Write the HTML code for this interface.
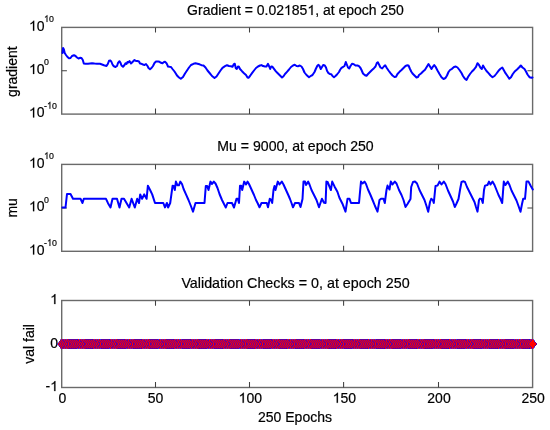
<!DOCTYPE html>
<html><head><meta charset="utf-8"><style>
html,body{margin:0;padding:0;background:#fff;}
svg{display:block;filter:blur(0.3px);}
text{font-family:"Liberation Sans", sans-serif;fill:#000;stroke:#000;stroke-width:0.2px;}
.h1{fill-opacity:0;stroke-opacity:0;}
.one{fill:#000;stroke:#000;stroke-width:0.2px;vector-effect:non-scaling-stroke;}
</style></head><body>
<svg width="550" height="430" viewBox="0 0 550 430">
<rect width="550" height="430" fill="#fff"/>
<rect x="61.7" y="27.4" width="470.90000000000003" height="86.69999999999999" fill="none" stroke="#6a6a6a" stroke-width="1.4"/>
<path d="M155.5,27.4v5.2M155.5,114.1v-5.6M249.5,27.4v5.2M249.5,114.1v-5.6M343.6,27.4v5.2M343.6,114.1v-5.6M438.5,27.4v5.2M438.5,114.1v-5.6M61.7,70.8h5.2M532.6,70.8h-5.2" stroke="#404040" stroke-width="1.05" fill="none"/>
<rect x="61.7" y="164.4" width="470.90000000000003" height="86.9" fill="none" stroke="#6a6a6a" stroke-width="1.4"/>
<path d="M155.5,164.4v5.2M155.5,251.3v-5.6M249.5,164.4v5.2M249.5,251.3v-5.6M343.6,164.4v5.2M343.6,251.3v-5.6M438.5,164.4v5.2M438.5,251.3v-5.6M61.7,207.9h5.2M532.6,207.9h-5.2" stroke="#404040" stroke-width="1.05" fill="none"/>
<rect x="61.7" y="300.5" width="470.90000000000003" height="87.0" fill="none" stroke="#6a6a6a" stroke-width="1.4"/>
<path d="M155.5,300.5v5.2M155.5,387.5v-5.6M249.5,300.5v5.2M249.5,387.5v-5.6M343.6,300.5v5.2M343.6,387.5v-5.6M438.5,300.5v5.2M438.5,387.5v-5.6M61.7,344.0h5.2M532.6,344.0h-5.2" stroke="#404040" stroke-width="1.05" fill="none"/>
<g transform="translate(295.5,14.9) scale(1.0,1.0)">
<text id="t0" x="0" y="0" text-anchor="middle" font-size="14.0">Gradient = 0.02<tspan class="h1">1</tspan>85<tspan class="h1">1</tspan>, at epoch 250</text>
<path class="one" transform="translate(-11.508,0.000) scale(0.006836,-0.006836)" d="M763 0L583 0L583 1147Q518 1085 415 1024.5Q312 964 223 931L223 1105Q375 1176 486 1275Q597 1374 651 1466L763 1466Z"/>
<path class="one" transform="translate(11.867,0.000) scale(0.006836,-0.006836)" d="M763 0L583 0L583 1147Q518 1085 415 1024.5Q312 964 223 931L223 1105Q375 1176 486 1275Q597 1374 651 1466L763 1466Z"/>
</g>
<g transform="translate(295.5,151.4) scale(1.0,1.0)">
<text id="t1" x="0" y="0" text-anchor="middle" font-size="14.1">Mu = 9000, at epoch 250</text>
</g>
<g transform="translate(295.5,288.0) scale(1.0,1.0)">
<text id="t2" x="0" y="0" text-anchor="middle" font-size="14.3">Validation Checks = 0, at epoch 250</text>
</g>
<g transform="translate(29,30.7) scale(1.0,1.0)">
<text id="t3" x="0" y="0" font-size="14"><tspan class="h1">1</tspan>0</text>
<path class="one" transform="translate(0.000,0.000) scale(0.006836,-0.006836)" d="M763 0L583 0L583 1147Q518 1085 415 1024.5Q312 964 223 931L223 1105Q375 1176 486 1275Q597 1374 651 1466L763 1466Z"/>
</g>
<g transform="translate(44.1,22.0) scale(0.92,1.0)">
<text id="t4" x="0" y="0" font-size="9.6"><tspan class="h1">1</tspan>0</text>
<path class="one" transform="translate(0.000,0.000) scale(0.004687,-0.004687)" d="M763 0L583 0L583 1147Q518 1085 415 1024.5Q312 964 223 931L223 1105Q375 1176 486 1275Q597 1374 651 1466L763 1466Z"/>
</g>
<g transform="translate(29,74.0) scale(1.0,1.0)">
<text id="t5" x="0" y="0" font-size="14"><tspan class="h1">1</tspan>0</text>
<path class="one" transform="translate(0.000,0.000) scale(0.006836,-0.006836)" d="M763 0L583 0L583 1147Q518 1085 415 1024.5Q312 964 223 931L223 1105Q375 1176 486 1275Q597 1374 651 1466L763 1466Z"/>
</g>
<g transform="translate(44.1,65.3) scale(0.92,1.0)">
<text id="t6" x="0" y="0" font-size="9.6">0</text>
</g>
<g transform="translate(29,117.4) scale(1.0,1.0)">
<text id="t7" x="0" y="0" font-size="14"><tspan class="h1">1</tspan>0</text>
<path class="one" transform="translate(0.000,0.000) scale(0.006836,-0.006836)" d="M763 0L583 0L583 1147Q518 1085 415 1024.5Q312 964 223 931L223 1105Q375 1176 486 1275Q597 1374 651 1466L763 1466Z"/>
</g>
<g transform="translate(44.1,108.7) scale(0.92,1.0)">
<text id="t8" x="0" y="0" font-size="9.6">-<tspan class="h1">1</tspan>0</text>
<path class="one" transform="translate(3.204,0.000) scale(0.004687,-0.004687)" d="M763 0L583 0L583 1147Q518 1085 415 1024.5Q312 964 223 931L223 1105Q375 1176 486 1275Q597 1374 651 1466L763 1466Z"/>
</g>
<g transform="translate(29,167.7) scale(1.0,1.0)">
<text id="t9" x="0" y="0" font-size="14"><tspan class="h1">1</tspan>0</text>
<path class="one" transform="translate(0.000,0.000) scale(0.006836,-0.006836)" d="M763 0L583 0L583 1147Q518 1085 415 1024.5Q312 964 223 931L223 1105Q375 1176 486 1275Q597 1374 651 1466L763 1466Z"/>
</g>
<g transform="translate(44.1,159.0) scale(0.92,1.0)">
<text id="t10" x="0" y="0" font-size="9.6"><tspan class="h1">1</tspan>0</text>
<path class="one" transform="translate(0.000,0.000) scale(0.004687,-0.004687)" d="M763 0L583 0L583 1147Q518 1085 415 1024.5Q312 964 223 931L223 1105Q375 1176 486 1275Q597 1374 651 1466L763 1466Z"/>
</g>
<g transform="translate(29,211.2) scale(1.0,1.0)">
<text id="t11" x="0" y="0" font-size="14"><tspan class="h1">1</tspan>0</text>
<path class="one" transform="translate(0.000,0.000) scale(0.006836,-0.006836)" d="M763 0L583 0L583 1147Q518 1085 415 1024.5Q312 964 223 931L223 1105Q375 1176 486 1275Q597 1374 651 1466L763 1466Z"/>
</g>
<g transform="translate(44.1,202.5) scale(0.92,1.0)">
<text id="t12" x="0" y="0" font-size="9.6">0</text>
</g>
<g transform="translate(29,254.6) scale(1.0,1.0)">
<text id="t13" x="0" y="0" font-size="14"><tspan class="h1">1</tspan>0</text>
<path class="one" transform="translate(0.000,0.000) scale(0.006836,-0.006836)" d="M763 0L583 0L583 1147Q518 1085 415 1024.5Q312 964 223 931L223 1105Q375 1176 486 1275Q597 1374 651 1466L763 1466Z"/>
</g>
<g transform="translate(44.1,245.9) scale(0.92,1.0)">
<text id="t14" x="0" y="0" font-size="9.6">-<tspan class="h1">1</tspan>0</text>
<path class="one" transform="translate(3.204,0.000) scale(0.004687,-0.004687)" d="M763 0L583 0L583 1147Q518 1085 415 1024.5Q312 964 223 931L223 1105Q375 1176 486 1275Q597 1374 651 1466L763 1466Z"/>
</g>
<g transform="translate(58.0,304.1) scale(1.0,1.0)">
<text id="t15" x="0" y="0" text-anchor="end" font-size="14"><tspan class="h1">1</tspan></text>
<path class="one" transform="translate(-7.797,0.000) scale(0.006836,-0.006836)" d="M763 0L583 0L583 1147Q518 1085 415 1024.5Q312 964 223 931L223 1105Q375 1176 486 1275Q597 1374 651 1466L763 1466Z"/>
</g>
<g transform="translate(58.0,347.6) scale(1.0,1.0)">
<text id="t16" x="0" y="0" text-anchor="end" font-size="14">0</text>
</g>
<g transform="translate(58.0,391.1) scale(1.0,1.0)">
<text id="t17" x="0" y="0" text-anchor="end" font-size="14">-<tspan class="h1">1</tspan></text>
<path class="one" transform="translate(-7.797,0.000) scale(0.006836,-0.006836)" d="M763 0L583 0L583 1147Q518 1085 415 1024.5Q312 964 223 931L223 1105Q375 1176 486 1275Q597 1374 651 1466L763 1466Z"/>
</g>
<g transform="translate(62.5,402.8) scale(1.0,1.0)">
<text id="t18" x="0" y="0" text-anchor="middle" font-size="14">0</text>
</g>
<g transform="translate(155.5,402.8) scale(1.0,1.0)">
<text id="t19" x="0" y="0" text-anchor="middle" font-size="14">50</text>
</g>
<g transform="translate(250.3,402.8) scale(1.0,1.0)">
<text id="t20" x="0" y="0" text-anchor="middle" font-size="14"><tspan class="h1">1</tspan>00</text>
<path class="one" transform="translate(-11.688,0.000) scale(0.006836,-0.006836)" d="M763 0L583 0L583 1147Q518 1085 415 1024.5Q312 964 223 931L223 1105Q375 1176 486 1275Q597 1374 651 1466L763 1466Z"/>
</g>
<g transform="translate(344.4,402.8) scale(1.0,1.0)">
<text id="t21" x="0" y="0" text-anchor="middle" font-size="14"><tspan class="h1">1</tspan>50</text>
<path class="one" transform="translate(-11.688,0.000) scale(0.006836,-0.006836)" d="M763 0L583 0L583 1147Q518 1085 415 1024.5Q312 964 223 931L223 1105Q375 1176 486 1275Q597 1374 651 1466L763 1466Z"/>
</g>
<g transform="translate(439.0,402.8) scale(1.0,1.0)">
<text id="t22" x="0" y="0" text-anchor="middle" font-size="14">200</text>
</g>
<g transform="translate(533.1,402.8) scale(1.0,1.0)">
<text id="t23" x="0" y="0" text-anchor="middle" font-size="14">250</text>
</g>
<g transform="translate(295,421.6) scale(1.0,1.0)">
<text id="t24" x="0" y="0" text-anchor="middle" font-size="14">250 Epochs</text>
</g>
<text transform="translate(16.7,71.6) rotate(-90)" x="0" y="0" text-anchor="middle" font-size="14">gradient</text>
<text transform="translate(17.0,207.9) rotate(-90)" x="0" y="0" text-anchor="middle" font-size="14">mu</text>
<text transform="translate(34.2,343.9) rotate(-90)" x="0" y="0" text-anchor="middle" font-size="14">val fail</text>
<polyline points="62.5,53.0 63.1,47.9 63.9,49.5 64.7,53.0 66.0,55.0 67.5,57.0 69.0,58.3 70.5,58.0 72.0,56.0 74.0,55.2 75.5,56.0 77.0,57.5 78.5,58.5 80.0,57.8 81.5,58.0 82.8,60.0 83.8,63.5 85.5,63.8 88.0,63.8 90.0,63.5 92.0,63.2 94.5,63.5 97.0,63.7 100.0,63.8 102.0,64.5 104.0,65.3 106.5,66.0 107.8,64.0 109.0,60.8 110.5,60.5 111.5,62.0 112.5,64.5 113.5,66.0 115.5,67.0 117.0,66.0 118.0,63.0 119.5,61.2 120.5,62.8 121.5,65.5 123.0,66.8 124.5,65.0 125.5,63.2 126.5,64.0 127.5,62.0 128.5,62.5 129.5,61.0 131.0,63.5 132.5,62.0 134.5,60.0 136.0,61.0 137.5,61.0 139.0,61.5 140.0,63.5 141.5,63.8 143.0,64.5 144.5,65.0 146.0,64.0 147.5,66.0 148.5,68.0 150.0,69.2 151.5,68.0 153.0,66.0 154.5,63.0 156.0,61.5 158.0,61.5 159.5,61.8 161.0,62.8 162.5,63.2 164.0,62.0 165.0,61.8 166.5,63.2 168.0,66.5 169.5,66.8 171.0,67.0 172.5,69.0 174.5,71.5 175.8,73.5 177.0,75.5 179.0,77.5 180.8,78.8 183.0,77.0 185.0,73.5 187.0,70.5 189.0,67.5 191.0,65.0 193.5,63.8 195.5,63.3 197.5,63.7 199.5,64.3 201.5,65.2 203.5,65.5 205.5,67.5 207.5,70.5 210.0,73.5 212.0,76.0 214.5,78.0 216.5,76.5 218.5,73.5 220.5,70.5 222.5,67.8 225.0,66.2 227.0,65.2 229.0,66.0 231.0,66.2 232.5,66.8 233.8,64.2 234.8,63.8 235.8,68.2 236.8,69.0 238.0,66.5 239.0,66.8 240.0,69.0 242.0,71.2 244.0,73.2 246.0,75.0 247.5,77.5 248.5,77.8 250.0,76.0 252.0,73.2 254.0,70.5 256.0,68.0 258.0,66.5 260.0,65.5 261.5,65.1 263.0,66.1 265.0,66.5 266.5,66.5 268.0,63.8 269.2,66.5 270.2,69.0 271.2,66.5 272.5,66.8 274.0,68.8 275.5,70.8 277.0,72.5 279.0,74.5 280.5,76.0 282.0,77.5 283.5,76.2 285.0,74.0 287.0,71.8 289.0,69.5 291.0,67.0 293.0,65.5 294.8,64.8 296.5,66.0 298.0,66.2 299.8,65.5 301.5,66.5 303.0,69.0 304.5,72.5 306.5,75.0 309.0,77.2 311.0,75.8 312.5,75.0 314.5,72.0 316.0,68.5 317.5,65.5 318.5,64.8 319.5,66.0 320.8,69.0 322.0,67.0 323.2,65.0 324.8,65.5 326.0,67.5 327.0,70.8 328.5,73.2 330.0,74.0 331.2,74.2 332.5,76.0 334.0,77.2 335.5,76.0 337.0,74.5 339.0,72.0 340.0,70.0 341.5,67.8 343.0,67.0 344.5,66.0 345.8,62.0 346.8,64.5 348.0,67.5 349.2,68.5 350.5,66.0 352.0,63.8 353.8,64.2 355.5,65.5 357.5,65.5 359.0,66.2 360.5,68.0 361.5,70.0 363.0,73.5 365.0,75.2 366.5,75.8 368.0,74.0 370.0,72.0 372.0,70.0 374.0,68.2 375.5,66.5 376.8,63.0 377.8,62.2 379.0,64.5 380.5,67.5 382.2,68.5 383.8,66.5 385.2,65.3 386.8,68.0 388.5,70.5 390.5,73.2 392.5,75.5 394.5,77.0 396.0,76.8 397.5,74.0 399.5,71.8 401.5,70.0 403.5,68.0 405.5,66.0 407.0,65.3 408.5,65.5 409.8,68.5 411.2,71.5 412.5,73.5 414.5,75.5 416.5,77.5 418.0,77.0 419.0,75.0 421.0,73.5 423.0,71.5 425.0,69.8 427.0,66.5 428.5,64.0 430.0,66.5 431.5,69.0 432.8,66.8 434.2,65.0 435.8,67.2 437.5,70.5 439.5,74.0 441.5,77.2 443.5,79.0 445.5,78.0 447.0,75.5 448.5,72.0 450.0,70.0 452.0,68.8 454.0,67.0 455.8,66.5 457.5,67.5 459.5,70.0 461.5,73.0 463.0,76.0 465.0,78.8 466.5,80.0 468.0,77.0 470.0,74.0 472.0,71.5 474.0,69.5 476.0,66.8 477.5,63.2 479.0,65.0 480.5,67.8 481.8,69.0 483.0,65.5 484.5,68.0 486.5,71.0 488.5,73.2 490.5,75.5 492.5,77.2 494.5,76.0 496.5,73.5 498.5,70.8 500.5,68.8 502.3,67.5 504.0,70.5 505.5,73.2 507.5,76.0 509.3,78.7 511.0,77.3 512.8,74.0 515.0,71.2 517.0,69.5 519.0,67.5 520.8,65.5 522.5,67.5 524.5,69.0 526.0,71.5 527.5,74.5 529.5,77.2 531.5,77.8 532.5,77.5" fill="none" stroke="#0000ff" stroke-width="2.0" stroke-linejoin="round" stroke-linecap="round"/>
<polyline points="62.4,207.5 65.5,207.5 67.0,194.0 70.5,194.0 73.0,198.8 80.5,198.8 82.5,203.0 83.8,198.8 106.0,198.8 108.0,203.2 110.5,207.4 112.5,198.8 117.0,198.8 119.5,207.5 121.5,198.8 124.0,198.8 126.5,203.0 129.2,207.5 131.6,198.8 134.8,207.5 137.2,198.8 139.0,203.0 140.2,194.4 142.1,198.8 144.2,194.4 146.6,198.8 147.9,185.7 150.1,190.0 152.2,194.4 155.0,203.0 163.3,203.0 165.0,207.4 166.9,203.0 168.1,207.5 170.2,203.0 171.4,194.4 172.6,185.7 173.7,186.0 174.8,190.1 175.9,181.6 177.5,185.3 178.9,185.3 180.3,181.6 182.0,184.0 183.6,189.0 186.0,194.3 188.5,200.0 190.9,206.0 193.0,211.6 195.5,203.0 204.5,203.0 205.8,186.0 207.2,186.0 208.5,190.0 210.5,181.6 212.0,184.0 213.8,181.6 215.5,183.5 217.5,188.0 219.5,194.0 222.0,200.0 224.0,204.0 225.8,207.5 227.5,203.0 232.0,203.0 234.0,207.5 236.5,198.8 237.8,198.8 239.0,203.0 240.0,185.7 241.2,185.7 242.2,190.0 244.2,181.6 246.0,184.5 247.5,181.6 249.0,184.0 251.5,189.5 254.0,195.0 256.0,200.0 257.8,203.5 259.5,207.3 261.5,203.0 266.8,203.0 268.0,207.3 269.8,198.8 271.0,199.5 272.2,203.0 273.5,190.0 274.5,186.0 275.5,190.0 277.8,181.6 279.5,184.5 281.8,181.6 283.5,184.5 286.0,190.0 288.5,195.5 290.0,199.0 291.5,203.0 293.0,207.3 295.0,203.0 299.0,203.0 300.5,207.0 302.5,199.0 303.5,181.6 305.0,181.6 306.0,185.0 308.2,181.6 309.5,184.5 311.5,190.0 314.0,195.0 316.5,200.0 319.0,207.3 321.9,198.7 324.0,202.8 325.6,203.0 326.4,181.6 327.6,182.0 330.9,190.0 332.2,181.6 334.5,186.4 337.4,191.7 339.4,197.8 342.7,204.3 345.5,211.6 347.5,198.8 349.5,198.8 351.0,203.0 359.0,203.0 360.0,192.0 361.0,181.6 362.5,183.5 364.5,181.6 366.0,184.0 368.0,189.5 370.5,195.0 373.0,201.0 375.0,206.0 377.5,211.7 379.5,200.0 381.0,198.8 383.5,198.8 384.8,203.0 386.5,190.0 387.5,185.6 389.5,189.5 390.8,181.6 392.5,184.5 394.8,181.6 396.5,183.5 399.0,190.0 401.5,195.0 403.5,200.0 405.5,207.0 407.5,204.0 410.5,199.0 411.2,187.0 413.0,182.0 415.0,181.5 417.0,183.5 419.5,190.0 422.0,195.0 424.5,200.0 426.5,206.0 428.2,211.7 430.0,202.0 431.2,198.8 432.8,200.0 433.8,203.0 435.5,186.0 437.5,185.6 439.5,181.6 441.5,184.5 443.8,181.6 445.5,184.0 448.0,190.5 450.5,196.0 453.0,201.5 454.8,207.0 456.5,203.5 458.5,199.0 460.0,190.0 461.5,182.0 463.5,181.3 465.0,182.0 467.0,187.0 469.5,192.0 472.0,197.0 474.5,202.0 476.0,207.0 477.5,211.6 479.0,200.0 480.0,198.6 481.5,199.0 482.8,203.0 484.0,190.0 485.0,185.6 487.5,185.0 489.0,181.6 490.5,184.5 492.5,181.6 494.5,185.0 496.5,190.0 498.5,195.0 500.5,199.0 502.2,203.0 503.0,192.0 503.8,181.6 505.5,185.0 507.8,181.6 509.5,185.0 511.5,190.5 514.0,195.5 516.5,200.5 518.5,206.0 520.5,211.7 522.0,204.0 523.2,198.8 525.0,198.8 525.8,190.0 526.5,181.6 528.5,181.6 530.5,185.5 532.8,189.5" fill="none" stroke="#0000ff" stroke-width="2.0" stroke-linejoin="round" stroke-linecap="round"/>
<line x1="61.7" y1="344.0" x2="532.6" y2="344.0" stroke="#0000ff" stroke-width="2"/>
<g fill="#ff0000" stroke="#0000ff" stroke-width="0.6" shape-rendering="crispEdges"><path d="M57.30,344.0L61.70,338.6L66.10,344.0L61.70,349.4Z"/><path d="M59.18,344.0L63.58,338.6L67.98,344.0L63.58,349.4Z"/><path d="M61.07,344.0L65.47,338.6L69.87,344.0L65.47,349.4Z"/><path d="M62.95,344.0L67.35,338.6L71.75,344.0L67.35,349.4Z"/><path d="M64.83,344.0L69.23,338.6L73.63,344.0L69.23,349.4Z"/><path d="M66.72,344.0L71.12,338.6L75.52,344.0L71.12,349.4Z"/><path d="M68.60,344.0L73.00,338.6L77.40,344.0L73.00,349.4Z"/><path d="M70.49,344.0L74.89,338.6L79.29,344.0L74.89,349.4Z"/><path d="M72.37,344.0L76.77,338.6L81.17,344.0L76.77,349.4Z"/><path d="M74.25,344.0L78.65,338.6L83.05,344.0L78.65,349.4Z"/><path d="M76.14,344.0L80.54,338.6L84.94,344.0L80.54,349.4Z"/><path d="M78.02,344.0L82.42,338.6L86.82,344.0L82.42,349.4Z"/><path d="M79.90,344.0L84.30,338.6L88.70,344.0L84.30,349.4Z"/><path d="M81.79,344.0L86.19,338.6L90.59,344.0L86.19,349.4Z"/><path d="M83.67,344.0L88.07,338.6L92.47,344.0L88.07,349.4Z"/><path d="M85.55,344.0L89.95,338.6L94.35,344.0L89.95,349.4Z"/><path d="M87.44,344.0L91.84,338.6L96.24,344.0L91.84,349.4Z"/><path d="M89.32,344.0L93.72,338.6L98.12,344.0L93.72,349.4Z"/><path d="M91.20,344.0L95.60,338.6L100.00,344.0L95.60,349.4Z"/><path d="M93.09,344.0L97.49,338.6L101.89,344.0L97.49,349.4Z"/><path d="M94.97,344.0L99.37,338.6L103.77,344.0L99.37,349.4Z"/><path d="M96.86,344.0L101.26,338.6L105.66,344.0L101.26,349.4Z"/><path d="M98.74,344.0L103.14,338.6L107.54,344.0L103.14,349.4Z"/><path d="M100.62,344.0L105.02,338.6L109.42,344.0L105.02,349.4Z"/><path d="M102.51,344.0L106.91,338.6L111.31,344.0L106.91,349.4Z"/><path d="M104.39,344.0L108.79,338.6L113.19,344.0L108.79,349.4Z"/><path d="M106.27,344.0L110.67,338.6L115.07,344.0L110.67,349.4Z"/><path d="M108.16,344.0L112.56,338.6L116.96,344.0L112.56,349.4Z"/><path d="M110.04,344.0L114.44,338.6L118.84,344.0L114.44,349.4Z"/><path d="M111.92,344.0L116.32,338.6L120.72,344.0L116.32,349.4Z"/><path d="M113.81,344.0L118.21,338.6L122.61,344.0L118.21,349.4Z"/><path d="M115.69,344.0L120.09,338.6L124.49,344.0L120.09,349.4Z"/><path d="M117.58,344.0L121.98,338.6L126.38,344.0L121.98,349.4Z"/><path d="M119.46,344.0L123.86,338.6L128.26,344.0L123.86,349.4Z"/><path d="M121.34,344.0L125.74,338.6L130.14,344.0L125.74,349.4Z"/><path d="M123.23,344.0L127.63,338.6L132.03,344.0L127.63,349.4Z"/><path d="M125.11,344.0L129.51,338.6L133.91,344.0L129.51,349.4Z"/><path d="M126.99,344.0L131.39,338.6L135.79,344.0L131.39,349.4Z"/><path d="M128.88,344.0L133.28,338.6L137.68,344.0L133.28,349.4Z"/><path d="M130.76,344.0L135.16,338.6L139.56,344.0L135.16,349.4Z"/><path d="M132.64,344.0L137.04,338.6L141.44,344.0L137.04,349.4Z"/><path d="M134.53,344.0L138.93,338.6L143.33,344.0L138.93,349.4Z"/><path d="M136.41,344.0L140.81,338.6L145.21,344.0L140.81,349.4Z"/><path d="M138.29,344.0L142.69,338.6L147.09,344.0L142.69,349.4Z"/><path d="M140.18,344.0L144.58,338.6L148.98,344.0L144.58,349.4Z"/><path d="M142.06,344.0L146.46,338.6L150.86,344.0L146.46,349.4Z"/><path d="M143.95,344.0L148.35,338.6L152.75,344.0L148.35,349.4Z"/><path d="M145.83,344.0L150.23,338.6L154.63,344.0L150.23,349.4Z"/><path d="M147.71,344.0L152.11,338.6L156.51,344.0L152.11,349.4Z"/><path d="M149.60,344.0L154.00,338.6L158.40,344.0L154.00,349.4Z"/><path d="M151.48,344.0L155.88,338.6L160.28,344.0L155.88,349.4Z"/><path d="M153.36,344.0L157.76,338.6L162.16,344.0L157.76,349.4Z"/><path d="M155.25,344.0L159.65,338.6L164.05,344.0L159.65,349.4Z"/><path d="M157.13,344.0L161.53,338.6L165.93,344.0L161.53,349.4Z"/><path d="M159.01,344.0L163.41,338.6L167.81,344.0L163.41,349.4Z"/><path d="M160.90,344.0L165.30,338.6L169.70,344.0L165.30,349.4Z"/><path d="M162.78,344.0L167.18,338.6L171.58,344.0L167.18,349.4Z"/><path d="M164.67,344.0L169.07,338.6L173.47,344.0L169.07,349.4Z"/><path d="M166.55,344.0L170.95,338.6L175.35,344.0L170.95,349.4Z"/><path d="M168.43,344.0L172.83,338.6L177.23,344.0L172.83,349.4Z"/><path d="M170.32,344.0L174.72,338.6L179.12,344.0L174.72,349.4Z"/><path d="M172.20,344.0L176.60,338.6L181.00,344.0L176.60,349.4Z"/><path d="M174.08,344.0L178.48,338.6L182.88,344.0L178.48,349.4Z"/><path d="M175.97,344.0L180.37,338.6L184.77,344.0L180.37,349.4Z"/><path d="M177.85,344.0L182.25,338.6L186.65,344.0L182.25,349.4Z"/><path d="M179.73,344.0L184.13,338.6L188.53,344.0L184.13,349.4Z"/><path d="M181.62,344.0L186.02,338.6L190.42,344.0L186.02,349.4Z"/><path d="M183.50,344.0L187.90,338.6L192.30,344.0L187.90,349.4Z"/><path d="M185.38,344.0L189.78,338.6L194.18,344.0L189.78,349.4Z"/><path d="M187.27,344.0L191.67,338.6L196.07,344.0L191.67,349.4Z"/><path d="M189.15,344.0L193.55,338.6L197.95,344.0L193.55,349.4Z"/><path d="M191.04,344.0L195.44,338.6L199.84,344.0L195.44,349.4Z"/><path d="M192.92,344.0L197.32,338.6L201.72,344.0L197.32,349.4Z"/><path d="M194.80,344.0L199.20,338.6L203.60,344.0L199.20,349.4Z"/><path d="M196.69,344.0L201.09,338.6L205.49,344.0L201.09,349.4Z"/><path d="M198.57,344.0L202.97,338.6L207.37,344.0L202.97,349.4Z"/><path d="M200.45,344.0L204.85,338.6L209.25,344.0L204.85,349.4Z"/><path d="M202.34,344.0L206.74,338.6L211.14,344.0L206.74,349.4Z"/><path d="M204.22,344.0L208.62,338.6L213.02,344.0L208.62,349.4Z"/><path d="M206.10,344.0L210.50,338.6L214.90,344.0L210.50,349.4Z"/><path d="M207.99,344.0L212.39,338.6L216.79,344.0L212.39,349.4Z"/><path d="M209.87,344.0L214.27,338.6L218.67,344.0L214.27,349.4Z"/><path d="M211.76,344.0L216.16,338.6L220.56,344.0L216.16,349.4Z"/><path d="M213.64,344.0L218.04,338.6L222.44,344.0L218.04,349.4Z"/><path d="M215.52,344.0L219.92,338.6L224.32,344.0L219.92,349.4Z"/><path d="M217.41,344.0L221.81,338.6L226.21,344.0L221.81,349.4Z"/><path d="M219.29,344.0L223.69,338.6L228.09,344.0L223.69,349.4Z"/><path d="M221.17,344.0L225.57,338.6L229.97,344.0L225.57,349.4Z"/><path d="M223.06,344.0L227.46,338.6L231.86,344.0L227.46,349.4Z"/><path d="M224.94,344.0L229.34,338.6L233.74,344.0L229.34,349.4Z"/><path d="M226.82,344.0L231.22,338.6L235.62,344.0L231.22,349.4Z"/><path d="M228.71,344.0L233.11,338.6L237.51,344.0L233.11,349.4Z"/><path d="M230.59,344.0L234.99,338.6L239.39,344.0L234.99,349.4Z"/><path d="M232.47,344.0L236.87,338.6L241.27,344.0L236.87,349.4Z"/><path d="M234.36,344.0L238.76,338.6L243.16,344.0L238.76,349.4Z"/><path d="M236.24,344.0L240.64,338.6L245.04,344.0L240.64,349.4Z"/><path d="M238.13,344.0L242.53,338.6L246.93,344.0L242.53,349.4Z"/><path d="M240.01,344.0L244.41,338.6L248.81,344.0L244.41,349.4Z"/><path d="M241.89,344.0L246.29,338.6L250.69,344.0L246.29,349.4Z"/><path d="M243.78,344.0L248.18,338.6L252.58,344.0L248.18,349.4Z"/><path d="M245.66,344.0L250.06,338.6L254.46,344.0L250.06,349.4Z"/><path d="M247.54,344.0L251.94,338.6L256.34,344.0L251.94,349.4Z"/><path d="M249.43,344.0L253.83,338.6L258.23,344.0L253.83,349.4Z"/><path d="M251.31,344.0L255.71,338.6L260.11,344.0L255.71,349.4Z"/><path d="M253.19,344.0L257.59,338.6L261.99,344.0L257.59,349.4Z"/><path d="M255.08,344.0L259.48,338.6L263.88,344.0L259.48,349.4Z"/><path d="M256.96,344.0L261.36,338.6L265.76,344.0L261.36,349.4Z"/><path d="M258.85,344.0L263.25,338.6L267.65,344.0L263.25,349.4Z"/><path d="M260.73,344.0L265.13,338.6L269.53,344.0L265.13,349.4Z"/><path d="M262.61,344.0L267.01,338.6L271.41,344.0L267.01,349.4Z"/><path d="M264.50,344.0L268.90,338.6L273.30,344.0L268.90,349.4Z"/><path d="M266.38,344.0L270.78,338.6L275.18,344.0L270.78,349.4Z"/><path d="M268.26,344.0L272.66,338.6L277.06,344.0L272.66,349.4Z"/><path d="M270.15,344.0L274.55,338.6L278.95,344.0L274.55,349.4Z"/><path d="M272.03,344.0L276.43,338.6L280.83,344.0L276.43,349.4Z"/><path d="M273.91,344.0L278.31,338.6L282.71,344.0L278.31,349.4Z"/><path d="M275.80,344.0L280.20,338.6L284.60,344.0L280.20,349.4Z"/><path d="M277.68,344.0L282.08,338.6L286.48,344.0L282.08,349.4Z"/><path d="M279.56,344.0L283.96,338.6L288.36,344.0L283.96,349.4Z"/><path d="M281.45,344.0L285.85,338.6L290.25,344.0L285.85,349.4Z"/><path d="M283.33,344.0L287.73,338.6L292.13,344.0L287.73,349.4Z"/><path d="M285.22,344.0L289.62,338.6L294.02,344.0L289.62,349.4Z"/><path d="M287.10,344.0L291.50,338.6L295.90,344.0L291.50,349.4Z"/><path d="M288.98,344.0L293.38,338.6L297.78,344.0L293.38,349.4Z"/><path d="M290.87,344.0L295.27,338.6L299.67,344.0L295.27,349.4Z"/><path d="M292.75,344.0L297.15,338.6L301.55,344.0L297.15,349.4Z"/><path d="M294.63,344.0L299.03,338.6L303.43,344.0L299.03,349.4Z"/><path d="M296.52,344.0L300.92,338.6L305.32,344.0L300.92,349.4Z"/><path d="M298.40,344.0L302.80,338.6L307.20,344.0L302.80,349.4Z"/><path d="M300.28,344.0L304.68,338.6L309.08,344.0L304.68,349.4Z"/><path d="M302.17,344.0L306.57,338.6L310.97,344.0L306.57,349.4Z"/><path d="M304.05,344.0L308.45,338.6L312.85,344.0L308.45,349.4Z"/><path d="M305.94,344.0L310.34,338.6L314.74,344.0L310.34,349.4Z"/><path d="M307.82,344.0L312.22,338.6L316.62,344.0L312.22,349.4Z"/><path d="M309.70,344.0L314.10,338.6L318.50,344.0L314.10,349.4Z"/><path d="M311.59,344.0L315.99,338.6L320.39,344.0L315.99,349.4Z"/><path d="M313.47,344.0L317.87,338.6L322.27,344.0L317.87,349.4Z"/><path d="M315.35,344.0L319.75,338.6L324.15,344.0L319.75,349.4Z"/><path d="M317.24,344.0L321.64,338.6L326.04,344.0L321.64,349.4Z"/><path d="M319.12,344.0L323.52,338.6L327.92,344.0L323.52,349.4Z"/><path d="M321.00,344.0L325.40,338.6L329.80,344.0L325.40,349.4Z"/><path d="M322.89,344.0L327.29,338.6L331.69,344.0L327.29,349.4Z"/><path d="M324.77,344.0L329.17,338.6L333.57,344.0L329.17,349.4Z"/><path d="M326.65,344.0L331.05,338.6L335.45,344.0L331.05,349.4Z"/><path d="M328.54,344.0L332.94,338.6L337.34,344.0L332.94,349.4Z"/><path d="M330.42,344.0L334.82,338.6L339.22,344.0L334.82,349.4Z"/><path d="M332.31,344.0L336.71,338.6L341.11,344.0L336.71,349.4Z"/><path d="M334.19,344.0L338.59,338.6L342.99,344.0L338.59,349.4Z"/><path d="M336.07,344.0L340.47,338.6L344.87,344.0L340.47,349.4Z"/><path d="M337.96,344.0L342.36,338.6L346.76,344.0L342.36,349.4Z"/><path d="M339.84,344.0L344.24,338.6L348.64,344.0L344.24,349.4Z"/><path d="M341.72,344.0L346.12,338.6L350.52,344.0L346.12,349.4Z"/><path d="M343.61,344.0L348.01,338.6L352.41,344.0L348.01,349.4Z"/><path d="M345.49,344.0L349.89,338.6L354.29,344.0L349.89,349.4Z"/><path d="M347.37,344.0L351.77,338.6L356.17,344.0L351.77,349.4Z"/><path d="M349.26,344.0L353.66,338.6L358.06,344.0L353.66,349.4Z"/><path d="M351.14,344.0L355.54,338.6L359.94,344.0L355.54,349.4Z"/><path d="M353.03,344.0L357.43,338.6L361.83,344.0L357.43,349.4Z"/><path d="M354.91,344.0L359.31,338.6L363.71,344.0L359.31,349.4Z"/><path d="M356.79,344.0L361.19,338.6L365.59,344.0L361.19,349.4Z"/><path d="M358.68,344.0L363.08,338.6L367.48,344.0L363.08,349.4Z"/><path d="M360.56,344.0L364.96,338.6L369.36,344.0L364.96,349.4Z"/><path d="M362.44,344.0L366.84,338.6L371.24,344.0L366.84,349.4Z"/><path d="M364.33,344.0L368.73,338.6L373.13,344.0L368.73,349.4Z"/><path d="M366.21,344.0L370.61,338.6L375.01,344.0L370.61,349.4Z"/><path d="M368.09,344.0L372.49,338.6L376.89,344.0L372.49,349.4Z"/><path d="M369.98,344.0L374.38,338.6L378.78,344.0L374.38,349.4Z"/><path d="M371.86,344.0L376.26,338.6L380.66,344.0L376.26,349.4Z"/><path d="M373.74,344.0L378.14,338.6L382.54,344.0L378.14,349.4Z"/><path d="M375.63,344.0L380.03,338.6L384.43,344.0L380.03,349.4Z"/><path d="M377.51,344.0L381.91,338.6L386.31,344.0L381.91,349.4Z"/><path d="M379.40,344.0L383.80,338.6L388.20,344.0L383.80,349.4Z"/><path d="M381.28,344.0L385.68,338.6L390.08,344.0L385.68,349.4Z"/><path d="M383.16,344.0L387.56,338.6L391.96,344.0L387.56,349.4Z"/><path d="M385.05,344.0L389.45,338.6L393.85,344.0L389.45,349.4Z"/><path d="M386.93,344.0L391.33,338.6L395.73,344.0L391.33,349.4Z"/><path d="M388.81,344.0L393.21,338.6L397.61,344.0L393.21,349.4Z"/><path d="M390.70,344.0L395.10,338.6L399.50,344.0L395.10,349.4Z"/><path d="M392.58,344.0L396.98,338.6L401.38,344.0L396.98,349.4Z"/><path d="M394.46,344.0L398.86,338.6L403.26,344.0L398.86,349.4Z"/><path d="M396.35,344.0L400.75,338.6L405.15,344.0L400.75,349.4Z"/><path d="M398.23,344.0L402.63,338.6L407.03,344.0L402.63,349.4Z"/><path d="M400.12,344.0L404.52,338.6L408.92,344.0L404.52,349.4Z"/><path d="M402.00,344.0L406.40,338.6L410.80,344.0L406.40,349.4Z"/><path d="M403.88,344.0L408.28,338.6L412.68,344.0L408.28,349.4Z"/><path d="M405.77,344.0L410.17,338.6L414.57,344.0L410.17,349.4Z"/><path d="M407.65,344.0L412.05,338.6L416.45,344.0L412.05,349.4Z"/><path d="M409.53,344.0L413.93,338.6L418.33,344.0L413.93,349.4Z"/><path d="M411.42,344.0L415.82,338.6L420.22,344.0L415.82,349.4Z"/><path d="M413.30,344.0L417.70,338.6L422.10,344.0L417.70,349.4Z"/><path d="M415.18,344.0L419.58,338.6L423.98,344.0L419.58,349.4Z"/><path d="M417.07,344.0L421.47,338.6L425.87,344.0L421.47,349.4Z"/><path d="M418.95,344.0L423.35,338.6L427.75,344.0L423.35,349.4Z"/><path d="M420.83,344.0L425.23,338.6L429.63,344.0L425.23,349.4Z"/><path d="M422.72,344.0L427.12,338.6L431.52,344.0L427.12,349.4Z"/><path d="M424.60,344.0L429.00,338.6L433.40,344.0L429.00,349.4Z"/><path d="M426.49,344.0L430.89,338.6L435.29,344.0L430.89,349.4Z"/><path d="M428.37,344.0L432.77,338.6L437.17,344.0L432.77,349.4Z"/><path d="M430.25,344.0L434.65,338.6L439.05,344.0L434.65,349.4Z"/><path d="M432.14,344.0L436.54,338.6L440.94,344.0L436.54,349.4Z"/><path d="M434.02,344.0L438.42,338.6L442.82,344.0L438.42,349.4Z"/><path d="M435.90,344.0L440.30,338.6L444.70,344.0L440.30,349.4Z"/><path d="M437.79,344.0L442.19,338.6L446.59,344.0L442.19,349.4Z"/><path d="M439.67,344.0L444.07,338.6L448.47,344.0L444.07,349.4Z"/><path d="M441.55,344.0L445.95,338.6L450.35,344.0L445.95,349.4Z"/><path d="M443.44,344.0L447.84,338.6L452.24,344.0L447.84,349.4Z"/><path d="M445.32,344.0L449.72,338.6L454.12,344.0L449.72,349.4Z"/><path d="M447.21,344.0L451.61,338.6L456.01,344.0L451.61,349.4Z"/><path d="M449.09,344.0L453.49,338.6L457.89,344.0L453.49,349.4Z"/><path d="M450.97,344.0L455.37,338.6L459.77,344.0L455.37,349.4Z"/><path d="M452.86,344.0L457.26,338.6L461.66,344.0L457.26,349.4Z"/><path d="M454.74,344.0L459.14,338.6L463.54,344.0L459.14,349.4Z"/><path d="M456.62,344.0L461.02,338.6L465.42,344.0L461.02,349.4Z"/><path d="M458.51,344.0L462.91,338.6L467.31,344.0L462.91,349.4Z"/><path d="M460.39,344.0L464.79,338.6L469.19,344.0L464.79,349.4Z"/><path d="M462.27,344.0L466.67,338.6L471.07,344.0L466.67,349.4Z"/><path d="M464.16,344.0L468.56,338.6L472.96,344.0L468.56,349.4Z"/><path d="M466.04,344.0L470.44,338.6L474.84,344.0L470.44,349.4Z"/><path d="M467.92,344.0L472.32,338.6L476.72,344.0L472.32,349.4Z"/><path d="M469.81,344.0L474.21,338.6L478.61,344.0L474.21,349.4Z"/><path d="M471.69,344.0L476.09,338.6L480.49,344.0L476.09,349.4Z"/><path d="M473.58,344.0L477.98,338.6L482.38,344.0L477.98,349.4Z"/><path d="M475.46,344.0L479.86,338.6L484.26,344.0L479.86,349.4Z"/><path d="M477.34,344.0L481.74,338.6L486.14,344.0L481.74,349.4Z"/><path d="M479.23,344.0L483.63,338.6L488.03,344.0L483.63,349.4Z"/><path d="M481.11,344.0L485.51,338.6L489.91,344.0L485.51,349.4Z"/><path d="M482.99,344.0L487.39,338.6L491.79,344.0L487.39,349.4Z"/><path d="M484.88,344.0L489.28,338.6L493.68,344.0L489.28,349.4Z"/><path d="M486.76,344.0L491.16,338.6L495.56,344.0L491.16,349.4Z"/><path d="M488.64,344.0L493.04,338.6L497.44,344.0L493.04,349.4Z"/><path d="M490.53,344.0L494.93,338.6L499.33,344.0L494.93,349.4Z"/><path d="M492.41,344.0L496.81,338.6L501.21,344.0L496.81,349.4Z"/><path d="M494.30,344.0L498.70,338.6L503.10,344.0L498.70,349.4Z"/><path d="M496.18,344.0L500.58,338.6L504.98,344.0L500.58,349.4Z"/><path d="M498.06,344.0L502.46,338.6L506.86,344.0L502.46,349.4Z"/><path d="M499.95,344.0L504.35,338.6L508.75,344.0L504.35,349.4Z"/><path d="M501.83,344.0L506.23,338.6L510.63,344.0L506.23,349.4Z"/><path d="M503.71,344.0L508.11,338.6L512.51,344.0L508.11,349.4Z"/><path d="M505.60,344.0L510.00,338.6L514.40,344.0L510.00,349.4Z"/><path d="M507.48,344.0L511.88,338.6L516.28,344.0L511.88,349.4Z"/><path d="M509.36,344.0L513.76,338.6L518.16,344.0L513.76,349.4Z"/><path d="M511.25,344.0L515.65,338.6L520.05,344.0L515.65,349.4Z"/><path d="M513.13,344.0L517.53,338.6L521.93,344.0L517.53,349.4Z"/><path d="M515.01,344.0L519.41,338.6L523.81,344.0L519.41,349.4Z"/><path d="M516.90,344.0L521.30,338.6L525.70,344.0L521.30,349.4Z"/><path d="M518.78,344.0L523.18,338.6L527.58,344.0L523.18,349.4Z"/><path d="M520.67,344.0L525.07,338.6L529.47,344.0L525.07,349.4Z"/><path d="M522.55,344.0L526.95,338.6L531.35,344.0L526.95,349.4Z"/><path d="M524.43,344.0L528.83,338.6L533.23,344.0L528.83,349.4Z"/><path d="M526.32,344.0L530.72,338.6L535.12,344.0L530.72,349.4Z"/><path d="M528.20,344.0L532.60,338.6L537.00,344.0L532.60,349.4Z"/></g>
</svg>
</body></html>
